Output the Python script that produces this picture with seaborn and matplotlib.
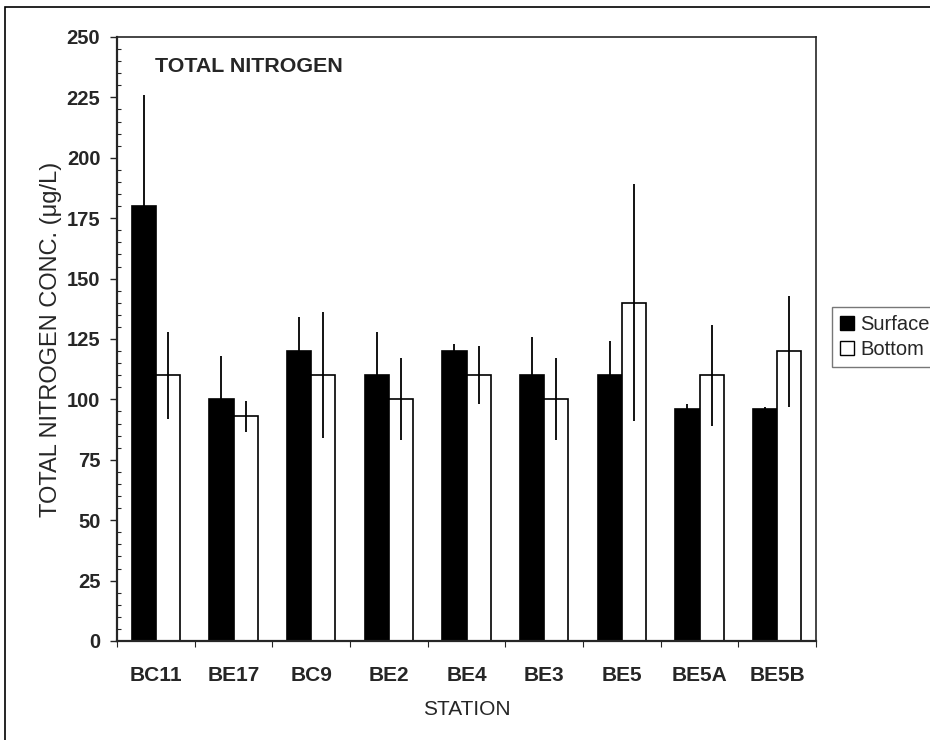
import pandas as pd
import matplotlib
matplotlib.use('Agg')
import matplotlib.pyplot as plt
import seaborn as sns
from matplotlib.patches import Patch, Rectangle
from matplotlib.ticker import MultipleLocator, FixedLocator

# Values
stations = ['BC11', 'BE17', 'BC9', 'BE2', 'BE4', 'BE3', 'BE5', 'BE5A', 'BE5B']
surface = [180, 100, 120, 110, 120, 110, 110, 96, 96]
bottom = [110, 93, 110, 100, 110, 100, 140, 110, 120]
surface_err = [46, 18, 14, 18, 3, 16, 14, 2, 1]
bottom_err = [18, 6.5, 26, 17, 12, 17, 49, 21, 23]

df = pd.DataFrame({
    'Station': stations * 2,
    'Conc': surface + bottom,
    'Depth': ['Surface'] * len(stations) + ['Bottom'] * len(stations),
})

sns.set_style('ticks')
plt.rcParams['font.family'] = ['Liberation Sans', 'DejaVu Sans']

fig = plt.figure(figsize=(9.3, 7.4), dpi=100)
ax = fig.add_axes([117 / 930, 1 - 641 / 740, (816 - 117) / 930, (641 - 37) / 740])

sns.barplot(data=df, x='Station', y='Conc', hue='Depth', order=stations,
            hue_order=['Surface', 'Bottom'],
            palette={'Surface': 'black', 'Bottom': 'white'},
            edgecolor='black', linewidth=1.2, width=0.62, gap=0,
            errorbar=None, legend=False, ax=ax)

# error bars, no caps
for cont, errs in zip(ax.containers, [surface_err, bottom_err]):
    xs = [b.get_x() + b.get_width() / 2 for b in cont]
    ys = [b.get_height() for b in cont]
    ax.errorbar(xs, ys, yerr=errs, fmt='none', ecolor='black', elinewidth=1.3, capsize=0)

ax.set_ylim(0, 250)
ax.set_xlim(-0.5, len(stations) - 0.5)
ax.yaxis.set_major_locator(MultipleLocator(25))
ax.yaxis.set_minor_locator(MultipleLocator(5))
ax.tick_params(axis='y', which='major', direction='out', length=5, width=1, pad=7)
ax.tick_params(axis='y', which='minor', direction='in', length=3, width=0.8)
ax.xaxis.set_minor_locator(FixedLocator([i + 0.5 for i in range(-1, len(stations))]))
ax.tick_params(axis='x', which='major', length=0, pad=18)
ax.tick_params(axis='x', which='minor', direction='out', length=4, width=0.8)
for lab in ax.get_xticklabels():
    lab.set_fontweight('bold')
    lab.set_fontsize(15)
for lab in ax.get_yticklabels():
    lab.set_fontweight('bold')
    lab.set_fontsize(14.5)

for s in ax.spines.values():
    s.set_visible(True)
    s.set_linewidth(1.2)
ax.spines['left'].set_linewidth(1.6)
ax.spines['bottom'].set_linewidth(1.6)

ax.set_xlabel('STATION', fontsize=15, labelpad=11)
ax.set_ylabel('TOTAL NITROGEN CONC. (μg/L)', fontsize=17, labelpad=3)
ax.text(0.054, 0.942, 'TOTAL NITROGEN', transform=ax.transAxes, fontsize=15.4,
        fontweight='bold', va='baseline', ha='left')

handles = [Patch(facecolor='black', edgecolor='black', label='Surface'),
           Patch(facecolor='white', edgecolor='black', label='Bottom')]
leg = fig.legend(handles=handles, loc='center left', bbox_to_anchor=(832 / 930, 1 - 337 / 740),
                 fontsize=14.5, frameon=True, fancybox=False, handlelength=0.7, handleheight=0.7,
                 handletextpad=0.3, borderpad=0.4, labelspacing=0.3, borderaxespad=0)
leg.get_frame().set_edgecolor('#555555')
leg.get_frame().set_linewidth(1)

# outer chart border
fig.patches.append(Rectangle((5 / 930, -0.01), 1.0, 1 - 7 / 740 + 0.01, transform=fig.transFigure,
                             fill=False, edgecolor='black', linewidth=1.2))

fig.savefig('out.png', dpi=100)
